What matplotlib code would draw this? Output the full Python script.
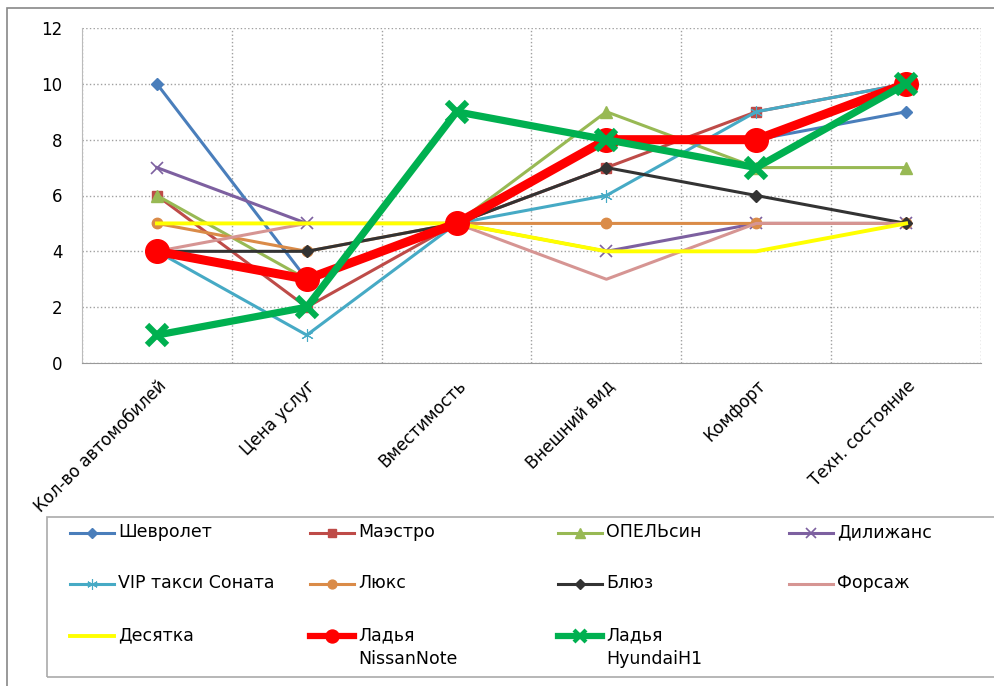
import numpy as np
import matplotlib.pyplot as plt
from matplotlib.patches import Rectangle
from matplotlib.lines import Line2D

# Данные
categories = ['Кол-во автомобилей', 'Цена услуг', 'Вместимость',
              'Внешний вид', 'Комфорт', 'Техн. состояние']

chevrolet = [10, 3, 5, 8, 8, 9]
maestro = [6, 2, 5, 7, 9, 10]
opelsin = [6, 3, 5, 9, 7, 7]
dilizhans = [7, 5, 5, 4, 5, 5]
vip_sonata = [4, 1, 5, 6, 9, 10]
lux = [5, 4, 5, 5, 5, 5]
blues = [4, 4, 5, 7, 6, 5]
forsazh = [4, 5, 5, 3, 5, 5]
desyatka = [5, 5, 5, 4, 4, 5]
ladya_nissan = [4, 3, 5, 8, 8, 10]
ladya_hyundai = [1, 2, 9, 8, 7, 10]

# (подпись, значения, цвет, маркер, толщина, размер маркера, толщина маркера)
series = [
    ('Шевролет', chevrolet, '#4A7EBB', 'D', 2.2, 6.5, 1),
    ('Маэстро', maestro, '#BE4B48', 's', 2.2, 7.5, 1),
    ('ОПЕЛЬсин', opelsin, '#98B954', '^', 2.2, 8, 1),
    ('Дилижанс', dilizhans, '#7D60A0', 'x', 2.2, 8, 1.2),
    ('VIP такси Соната', vip_sonata, '#46AAC5', (6, 2, 0), 2.2, 9, 0.8),
    ('Люкс', lux, '#DA8B48', 'o', 2.2, 7.5, 1),
    ('Блюз', blues, '#333333', 'D', 2.2, 6.5, 1),
    ('Форсаж', forsazh, '#D69593', None, 2.2, 0, 1),
    ('Десятка', desyatka, '#FFFF00', None, 2.8, 0, 1),
    ('Ладья\nNissanNote', ladya_nissan, '#FF0000', 'o', 6.5, 17, 1),
    ('Ладья\nHyundaiH1', ladya_hyundai, '#00B050', 'x', 5.2, 14, 4.5),
]

W, H = 994, 686
fig = plt.figure(figsize=(W / 100, H / 100), dpi=100)
ax = fig.add_axes([82 / W, 1 - 363 / H, (981 - 82) / W, (363 - 28) / H])

x = np.arange(len(categories))
for name, vals, color, marker, lw, ms, mew in series:
    ax.plot(x, vals, color=color, lw=lw, marker=marker, ms=ms,
            mew=mew, mfc=color, mec=color, label=name)

ax.set_xlim(-0.5, len(categories) - 0.5)
ax.set_ylim(0, 12)
ax.set_yticks(range(0, 13, 2))
ax.set_xticks(x)
ax.set_xticklabels(categories, rotation=45, ha='right', rotation_mode='anchor',
                   fontsize=12)
ax.tick_params(axis='y', labelsize=12, length=0, pad=14)
ax.tick_params(axis='x', length=0, pad=10)

# сетка пунктиром
ax.set_xticks(np.arange(-0.5, len(categories) + 0.5, 1), minor=True)
ax.tick_params(which='minor', length=0)
ax.grid(True, which='minor', axis='x', color='#A0A0A0', ls=':', lw=1)
ax.grid(True, which='major', axis='y', color='#A0A0A0', ls=':', lw=1)
for s in ['top', 'right']:
    ax.spines[s].set_visible(False)
ax.spines['left'].set_color('#BBBBBB')
ax.spines['bottom'].set_color('#999999')

# легенда вручную, построчно по 4 в ряд
col_x = [70, 310, 558, 789]
row_y = [533, 584, 636]
handle_len = 44
fig.patches.append(Rectangle((47 / W, 1 - 677 / H), 1.0, (677 - 517) / H,
                             transform=fig.transFigure, fill=False,
                             edgecolor='#AAAAAA', lw=1.2))
for i, (name, vals, color, marker, lw, ms, mew) in enumerate(series):
    cx = col_x[i % 4]
    cy = 1 - row_y[i // 4] / H
    llw = min(lw, 4.5)
    fig.add_artist(Line2D([cx / W, (cx + handle_len) / W], [cy, cy],
                          transform=fig.transFigure, color=color, lw=llw))
    if marker is not None:
        fig.add_artist(Line2D([(cx + handle_len / 2) / W], [cy], transform=fig.transFigure,
                              marker=marker, ms=min(ms, 11) * 0.85, mew=min(mew, 3),
                              color=color, mfc=color, mec=color, lw=0))
    fig.text((cx + handle_len + 4) / W, cy + 10 / H, name, fontsize=12.5,
             va='top', ha='left', linespacing=1.45)

# рамка вокруг всей диаграммы
fig.patches.append(Rectangle((7 / W, -0.1), 1.2, 1.1 - 8 / H, transform=fig.transFigure,
                             fill=False, edgecolor='#888888', lw=1.2))

fig.savefig('out.png', dpi=100)
